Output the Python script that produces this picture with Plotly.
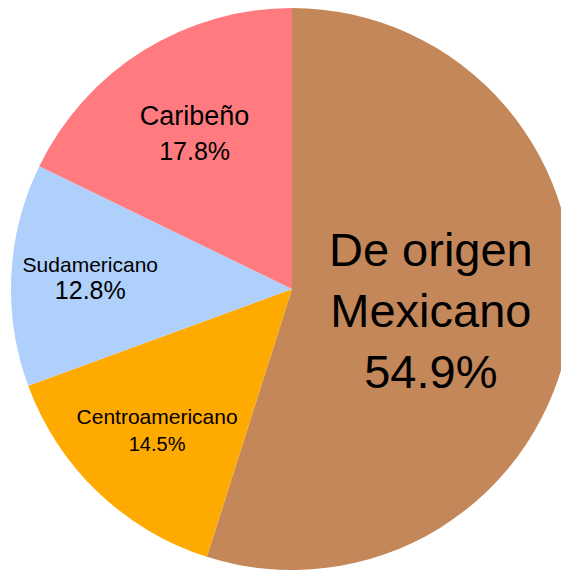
import plotly.graph_objects as go

labels = ["De origen<br>Mexicano", "Centroamericano", "Sudamericano", "Caribeño"]
values = [54.9, 14.5, 12.8, 17.8]
colors = ["#c4875a", "#ffaa00", "#b0d0fc", "#ff7b80"]
label_sizes = [47, 21, 21, 27]
percent_sizes = [47, 20, 25, 25]

templates = [
    "%{label}<br><span style='font-size:" + str(p) + "px'>%{percent:.1%}</span>"
    for p in percent_sizes
]

fig = go.Figure(go.Pie(
    labels=labels,
    values=values,
    sort=False,
    direction="clockwise",
    rotation=0,
    marker=dict(colors=colors, line=dict(width=0)),
    texttemplate=templates,
    textposition="inside",
    insidetextorientation="horizontal",
    textfont=dict(size=label_sizes, color="black",
                  family="Liberation Sans, Arial, Helvetica, sans-serif"),
    showlegend=False,
    hoverinfo="label+percent",
))

fig.update_layout(
    width=569, height=572,
    margin=dict(l=3, r=4, t=0, b=10),
    paper_bgcolor="white",
    plot_bgcolor="white",
)

fig.write_html("out.html")
